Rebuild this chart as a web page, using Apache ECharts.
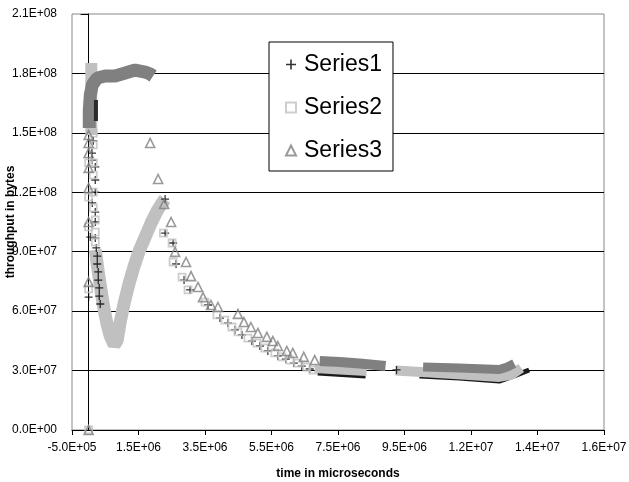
<!DOCTYPE html>
<html>
<head>
<meta charset="utf-8">
<script src="https://cdn.jsdelivr.net/npm/echarts@6/dist/echarts.min.js"></script>
<style>
  html, body { margin: 0; padding: 0; background: #fff; }
  #chart { width: 629px; height: 482px; }
</style>
</head>
<body>
<div id="chart"></div>
<script>
  // x in microseconds, y in bytes
  var seriesNames = ['Series1', 'Series2', 'Series3'];

  // discrete markers
  var s1Points = [
    [0.14e6, 1.46e8], [0.10e6, 1.398e8], [0.11e6, 1.363e8], [0.20e6, 1.328e8], [0.20e6, 1.262e8],
    [0.20e6, 1.201e8], [0.11e6, 1.146e8], [0.20e6, 1.100e8], [0.20e6, 1.050e8], [0.05e6, 9.74e7],
    [0.20e6, 9.69e7], [0.23e6, 9.19e7], [0.26e6, 8.78e7], [0.26e6, 8.38e7], [0.29e6, 7.98e7],
    [0.29e6, 7.57e7], [0.32e6, 7.17e7], [0.32e6, 6.76e7], [0.35e6, 6.36e7], [0, 6.71e7],
    [2.30e6, 1.166e8], [2.30e6, 9.94e7], [2.54e6, 9.44e7], [2.63e6, 8.38e7], [2.87e6, 7.57e7],
    [3.05e6, 7.07e7], [3.59e6, 6.31e7], [3.95e6, 5.65e7], [4.19e6, 5.40e7], [4.40e6, 5.05e7],
    [4.61e6, 4.80e7], [4.91e6, 4.49e7], [5.15e6, 4.24e7], [5.39e6, 3.99e7], [5.69e6, 3.74e7],
    [5.93e6, 3.58e7], [6.17e6, 3.38e7], [6.41e6, 3.23e7], [6.65e6, 3.08e7], [9.26e6, 3.03e7]
  ];
  var s2Points = [
    [0.14e6, 1.499e8], [0.14e6, 1.439e8], [0, 1.348e8], [0.14e6, 1.348e8], [0.14e6, 1.287e8],
    [0.14e6, 1.201e8], [0, 1.176e8], [0.14e6, 1.121e8], [0.20e6, 1.060e8], [0, 1.025e8],
    [0.20e6, 9.99e7], [0.20e6, 9.49e7], [0, 7.12e7], [0, 0],
    [2.25e6, 9.94e7], [2.51e6, 9.44e7], [2.54e6, 8.48e7], [2.81e6, 7.72e7], [2.99e6, 7.07e7],
    [3.50e6, 6.46e7], [3.86e6, 5.81e7], [4.10e6, 5.55e7], [4.31e6, 5.20e7], [4.49e6, 4.95e7],
    [4.79e6, 4.64e7], [5.06e6, 4.39e7], [5.30e6, 4.14e7], [5.60e6, 3.89e7], [5.81e6, 3.69e7],
    [6.05e6, 3.53e7], [6.29e6, 3.38e7], [6.56e6, 3.18e7], [6.74e6, 3.03e7]
  ];
  var s3Points = [
    [0, 1.489e8], [0, 1.449e8], [0, 1.398e8], [0, 1.323e8], [0, 1.222e8], [0, 1.050e8],
    [0, 7.47e7], [0, 0],
    [1.85e6, 1.449e8], [2.09e6, 1.267e8], [2.27e6, 1.141e8], [2.48e6, 1.050e8], [2.60e6, 8.99e7],
    [2.93e6, 8.48e7], [3.08e6, 7.77e7], [3.29e6, 7.22e7], [3.44e6, 6.71e7], [3.68e6, 6.31e7],
    [3.89e6, 6.21e7], [4.49e6, 5.86e7], [4.67e6, 5.45e7], [4.88e6, 5.20e7], [5.09e6, 4.90e7],
    [5.36e6, 4.70e7], [5.54e6, 4.49e7], [5.69e6, 4.24e7], [5.96e6, 3.99e7], [6.14e6, 3.89e7],
    [6.47e6, 3.69e7], [6.80e6, 3.53e7]
  ];

  // stretches where the markers are so dense they merge into a band
  var s1TopBar = [[0.22e6, 1.56e8], [0.22e6, 1.666e8]];
  var s1LowBand1 = [[6.89e6, 2.88e7], [8.33e6, 2.73e7]];
  var s1LowBand2 = [[9.95e6, 2.73e7], [11.14e6, 2.62e7], [12.35e6, 2.47e7], [12.80e6, 2.73e7], [13.25e6, 3.03e7]];
  var s2Spike = [[0.08e6, 1.489e8], [0.08e6, 1.853e8]];
  var s2VBand = [
    [0.20e6, 9.09e7], [0.29e6, 7.98e7], [0.38e6, 6.97e7], [0.47e6, 6.06e7], [0.56e6, 5.30e7],
    [0.65e6, 4.75e7], [0.77e6, 4.29e7], [0.86e6, 4.54e7], [0.95e6, 5.45e7], [1.07e6, 6.41e7],
    [1.22e6, 7.42e7], [1.37e6, 8.28e7], [1.52e6, 9.04e7], [1.70e6, 9.74e7], [1.88e6, 1.045e8],
    [2.06e6, 1.106e8], [2.21e6, 1.146e8], [2.30e6, 1.166e8]
  ];
  var s2LowBand1 = [[6.80e6, 3.08e7], [7.55e6, 3.00e7], [8.36e6, 2.93e7]];
  var s2LowBand2 = [[9.23e6, 3.00e7], [10.25e6, 2.90e7], [11.45e6, 2.78e7], [12.35e6, 2.68e7], [12.71e6, 2.78e7], [13.01e6, 3.13e7]];
  var s3TopBand = [
    [0.02e6, 1.524e8], [0.02e6, 1.615e8], [0.05e6, 1.691e8], [0.11e6, 1.742e8], [0.26e6, 1.777e8],
    [0.50e6, 1.787e8], [0.80e6, 1.787e8], [1.10e6, 1.802e8], [1.40e6, 1.817e8], [1.55e6, 1.812e8],
    [1.70e6, 1.807e8], [1.85e6, 1.797e8], [1.94e6, 1.787e8]
  ];
  var s3LowBand1 = [[6.95e6, 3.48e7], [7.55e6, 3.43e7], [8.15e6, 3.36e7], [8.93e6, 3.23e7]];
  var s3LowBand2 = [[10.06e6, 3.18e7], [11.14e6, 3.13e7], [12.35e6, 3.05e7], [12.59e6, 3.18e7], [12.80e6, 3.36e7]];

  var FONT = "'Liberation Sans', Arial, sans-serif";
  var C1 = '#000000', C2 = '#c0c0c0', C3 = '#808080';
  var PLUS = 'path://M4.2,0H5.8V4.2H10V5.8H5.8V10H4.2V5.8H0V4.2H4.2Z';

  // Excel style 0.0E+00
  function sci(v) {
    if (v === 0) return '0.0E+00';
    var sign = v < 0 ? '-' : '';
    v = Math.abs(v);
    var e = Math.floor(Math.log10(v) + 1e-9);
    var m = Math.round(v / Math.pow(10, e) * 10 + 1e-6) / 10;
    if (m >= 10) { m = m / 10; e++; }
    var ae = Math.abs(e);
    return sign + m.toFixed(1) + 'E' + (e < 0 ? '-' : '+') + (ae < 10 ? '0' : '') + ae;
  }

  function band(name, data, color, width) {
    return {
      name: name, type: 'line', data: data, symbol: 'none', silent: true, z: 2,
      lineStyle: { color: color, width: width, join: 'bevel' }
    };
  }

  var chart = echarts.init(document.getElementById('chart'), null, { renderer: 'canvas' });
  var option = {
    animation: false,
    backgroundColor: '#fff',
    grid: {
      left: 72, right: 25, top: 14, bottom: 52,
      containLabel: false, outerBoundsMode: 'none',
      show: true, borderColor: '#888', borderWidth: 1, backgroundColor: 'transparent'
    },
    legend: {
      orient: 'vertical', left: 269, top: 42,
      padding: [11, 11, 9, 16],
      itemGap: 20, itemWidth: 10, itemHeight: 10,
      data: seriesNames,
      backgroundColor: '#fff', borderColor: '#000', borderWidth: 1,
      textStyle: { fontFamily: FONT, fontSize: 23, lineHeight: 23, color: '#000', padding: [0, 0, 0, 3] }
    },
    xAxis: {
      type: 'value', min: -5e5, max: 1.55e7, interval: 2e6,
      name: 'time in microseconds', nameLocation: 'middle', nameGap: 38, nameMoveOverlap: false,
      nameTextStyle: { fontFamily: FONT, fontSize: 12, fontWeight: 'bold', color: '#000' },
      axisLine: { lineStyle: { color: '#000', width: 1 } },
      axisTick: { show: true, length: 5, lineStyle: { color: '#000' } },
      axisLabel: { formatter: sci, fontFamily: FONT, fontSize: 12, color: '#000', margin: 12 },
      splitLine: { show: false }
    },
    yAxis: {
      type: 'value', min: 0, max: 2.1e8, interval: 3e7,
      name: 'throughput in bytes', nameLocation: 'middle', nameGap: 55, nameMoveOverlap: false,
      nameTextStyle: { fontFamily: FONT, fontSize: 12, fontWeight: 'bold', color: '#000' },
      axisLine: { onZero: true, lineStyle: { color: '#000', width: 1 } },
      axisTick: { show: true, length: 8, lineStyle: { color: '#000' } },
      axisLabel: { formatter: sci, fontFamily: FONT, fontSize: 12, color: '#000', margin: 15 },
      splitLine: { show: true, showMinLine: false, showMaxLine: false, lineStyle: { color: '#000', width: 1 } }
    },
    series: [
      band('s1 low 1', s1LowBand1, '#1a1a1a', 5),
      band('s1 low 2', s1LowBand2, '#1a1a1a', 5),
      band('s2 spike', s2Spike, C2, 12),
      band('s2 v', s2VBand, C2, 13),
      band('s2 low 1', s2LowBand1, C2, 8),
      band('s2 low 2', s2LowBand2, C2, 10),
      band('s3 top', s3TopBand, C3, 13),
      band('s3 low 1', s3LowBand1, C3, 10),
      band('s3 low 2', s3LowBand2, C3, 9),
      band('s1 top', s1TopBar, '#2a2a2a', 4),
      {
        name: 'Series1', type: 'scatter', data: s1Points, z: 3,
        symbol: PLUS, symbolSize: 8,
        itemStyle: { color: C1 }
      },
      {
        name: 'Series2', type: 'scatter', data: s2Points, z: 3,
        symbol: 'rect', symbolSize: 7,
        itemStyle: { color: 'rgba(255,255,255,0)', borderColor: C2, borderWidth: 1.8 }
      },
      {
        name: 'Series3', type: 'scatter', data: s3Points, z: 3,
        symbol: 'triangle', symbolSize: 9,
        itemStyle: { color: 'rgba(255,255,255,0)', borderColor: C3, borderWidth: 1.6 }
      }
    ]
  };
  chart.setOption(option);
</script>
</body>
</html>
